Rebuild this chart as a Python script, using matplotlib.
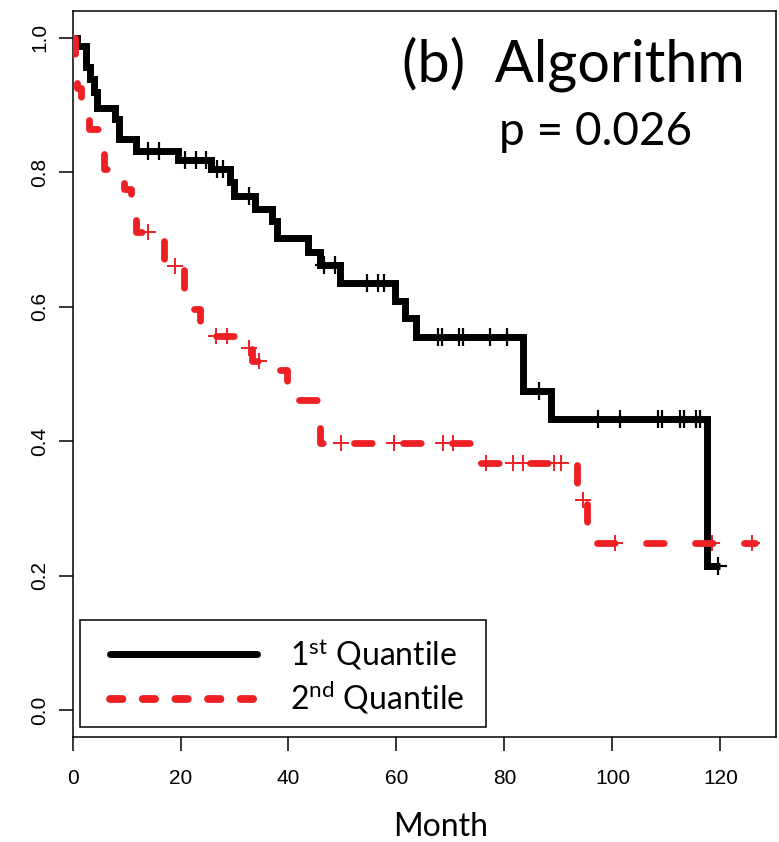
import matplotlib
matplotlib.use("Agg")
import matplotlib.pyplot as plt
import numpy as np
from matplotlib.lines import Line2D
from matplotlib.patches import Rectangle

plt.rcParams['font.family'] = ['Liberation Sans', 'DejaVu Sans']
plt.rcParams['mathtext.fontset'] = 'custom'
plt.rcParams['mathtext.rm'] = 'Lato'
plt.rcParams['mathtext.it'] = 'Lato:italic'
plt.rcParams['mathtext.bf'] = 'Lato:bold'

# Kaplan-Meier estimates: step times (months) and survival after each step
q1_times = [0, 0.8, 2.5, 3.3, 3.9, 4.5, 7.9, 8.7, 11.8, 19.5, 25.6, 29.2, 29.9,
            33.8, 36.9, 37.8, 43.7, 45.8, 49.5, 59.7, 61.6, 63.7, 83.5, 88.6, 117.6]
q1_surv = [1.0, 0.988, 0.956, 0.939, 0.919, 0.895, 0.88, 0.85, 0.832, 0.818, 0.805,
           0.785, 0.765, 0.745, 0.727, 0.703, 0.681, 0.662, 0.636, 0.609, 0.584,
           0.555, 0.475, 0.433, 0.215]
q1_end = 120.0
q1_censor = [14, 16, 20.8, 22.9, 24.7, 26.7, 27.8, 32.7, 46.6, 48.7, 54.5, 56.6,
             57.6, 67.7, 68.4, 71.6, 72.3, 77.4, 80.5, 86.4, 97.4, 101.4, 108.5,
             109.1, 112.5, 113.2, 115.5, 116.2, 119.6]

q2_times = [0, 0.4, 0.9, 1.5, 2.5, 3.1, 5.8, 9.6, 10.8, 11.8, 16.9, 20.7, 23.7,
            26.0, 31.9, 32.3, 33.2, 35.8, 39.7, 45.8, 75.5, 93.4, 95.3]
q2_surv = [1.0, 0.96, 0.925, 0.905, 0.885, 0.865, 0.805, 0.775, 0.757, 0.711,
           0.661, 0.597, 0.575, 0.557, 0.548, 0.539, 0.52, 0.506, 0.461, 0.397,
           0.367, 0.312, 0.249]
q2_end = 126.4
q2_censor = [14.0, 19.0, 26.6, 28.7, 32.7, 34.6, 49.7, 59.5, 68.6, 70.5, 76.6,
             81.5, 83.4, 89.2, 90.5, 94.5, 100.5, 118.4, 125.8]

x_ticks = [0, 20, 40, 60, 80, 100, 120]
y_ticks = [0.0, 0.2, 0.4, 0.6, 0.8, 1.0]
y_tick_labels = ['0.0', '0.2', '0.4', '0.6', '0.8', '1.0']
series_labels = ['1$^{\\mathrm{st}}$ Quantile', '2$^{\\mathrm{nd}}$ Quantile']

RED = '#EE2024'
BLACK = '#000000'


def km_path(times, surv, end):
    return list(times) + [end], list(surv) + [surv[-1]]


def level_at(times, surv, when):
    idx = np.searchsorted(np.asarray(times), np.asarray(when), side='right') - 1
    return np.asarray(surv)[idx]


fig = plt.figure(figsize=(7.79, 8.42), dpi=100)
ax = fig.add_axes([0.0931, 0.1247, 0.9031, 0.8622])

t1, s1 = km_path(q1_times, q1_surv, q1_end)
ax.step(t1, s1, where='post', color=BLACK, lw=5.0, solid_joinstyle='miter',
        solid_capstyle='butt', zorder=2)
ax.plot(q1_censor, level_at(q1_times, q1_surv, q1_censor), ls='none',
        marker='+', ms=13, mew=1.6, color=BLACK, zorder=2)

t2, s2 = km_path(q2_times, q2_surv, q2_end)
ax.step(t2, s2, where='post', color=RED, lw=4.9, linestyle=(0, (2.6, 4.6)),
        dash_capstyle='round', dash_joinstyle='round', zorder=3)
ax.plot(q2_censor, level_at(q2_times, q2_surv, q2_censor), ls='none',
        marker='+', ms=11, mew=1.4, color=RED, zorder=3)

ax.set_xlim(0, 130.3)
ax.set_ylim(-0.04, 1.04)
ax.set_xticks(x_ticks)
ax.set_xticklabels([str(v) for v in x_ticks], fontsize=15)
ax.set_yticks(y_ticks)
ax.set_yticklabels(y_tick_labels, fontsize=15, rotation=90, va='center')
ax.tick_params(axis='both', direction='out', length=10, width=1.1, color='black')
ax.tick_params(axis='x', pad=13)
ax.tick_params(axis='y', pad=7)
for sp in ax.spines.values():
    sp.set_linewidth(1.1)

# legend box drawn separately so its padding can be set freely
frame = Rectangle((80 / 779, 1 - 727 / 842), 406 / 779, 107 / 842,
                  transform=fig.transFigure, facecolor='white',
                  edgecolor='black', lw=1.1, zorder=5)
fig.patches.append(frame)

handles = [
    Line2D([], [], color=BLACK, lw=5.0, solid_capstyle='round'),
    Line2D([], [], color=RED, lw=5.6, linestyle=(0, (1.6, 2.6)),
           dash_capstyle='round'),
]
leg = fig.legend(handles, series_labels, loc='center left',
                 bbox_to_anchor=(110 / 779, 1 - 676 / 842),
                 frameon=False, borderaxespad=0, borderpad=0,
                 prop={'family': 'Lato', 'size': 23}, handlelength=4.6,
                 handletextpad=1.05, labelspacing=0.25)
leg.set_zorder(6)

fig.text(745 / 779, 1 - 82 / 842, '(b)  Algorithm', ha='right', va='baseline',
         fontsize=41.5, family='Lato')
fig.text(596 / 779, 1 - 145 / 842, 'p = 0.026', ha='center', va='baseline',
         fontsize=33, family='Lato')
fig.text(441 / 779, 1 - 836 / 842, 'Month', ha='center', va='baseline',
         fontsize=23, family='Lato')

fig.savefig('out.png', dpi=100)
